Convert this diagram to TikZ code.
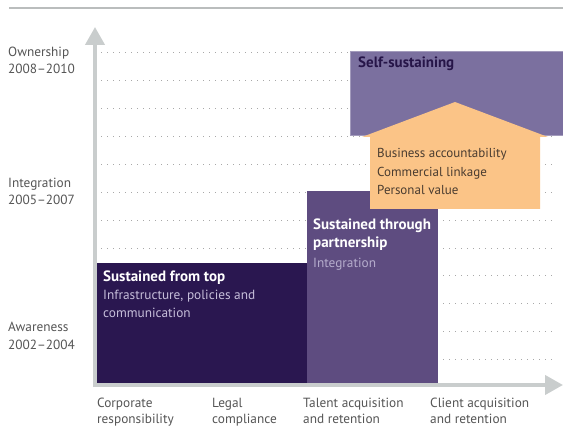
\documentclass[tikz,border=0pt]{standalone}
\usepackage{fontspec}
\setmainfont{PT Sans}
\usetikzlibrary{arrows.meta}
\definecolor{axisgray}{HTML}{C9CDCD}
\definecolor{dotgray}{HTML}{A8A8A8}
\definecolor{labgray}{HTML}{555555}
\definecolor{darkpurple}{HTML}{2A1750}
\definecolor{midpurple}{HTML}{5E4C80}
\definecolor{toppurple}{HTML}{7B709F}
\definecolor{houseorange}{HTML}{FBC487}
\definecolor{paletext}{HTML}{C6BEDA}
\definecolor{housetext}{HTML}{4A3C30}
\tikzset{
  lab/.style={anchor=base west, inner sep=0pt, text=labgray, font=\fontsize{13.3}{15}\selectfont},
  boxtitle/.style={anchor=base west, inner sep=0pt, text=white, font=\bfseries\fontsize{15}{17}\selectfont},
  boxsub/.style={anchor=base west, inner sep=0pt, text=paletext, font=\fontsize{13.3}{15}\selectfont},
  housetxt/.style={anchor=base west, inner sep=0pt, text=housetext, font=\fontsize{13}{15}\selectfont},
  gridline/.style={dotgray, line width=0.8pt, dash pattern=on 1.2pt off 4.8pt},
  axisline/.style={axisgray, line width=4pt, -{Triangle[length=18pt,width=19pt]}},
}
\begin{document}
\begin{tikzpicture}[x=1pt,y=-1pt]
\useasboundingbox (0,0) rectangle (563,427);
\fill[white] (0,0) rectangle (563,427);
% top rule
\coordinate (r1) at (9,8);
\coordinate (r2) at (563,8);
\draw[axisgray!80!gray, line width=1.5pt] (r1) -- (r2);
% dotted grid
\foreach \y in {52,80,108,136,164,192,220,248,275,303,331,359}{
  \draw[gridline] (101,\y) -- (556,\y);
}
% boxes
\fill[darkpurple] (97,263) rectangle (307,383);
\fill[midpurple] (307,191) rectangle (438,383);
\fill[toppurple, draw=toppurple!70!white, line width=0.8pt] (350,51) rectangle (563,135);
% house
\fill[houseorange] (455,102) -- (548,137) -- (540,137) -- (540,209) -- (370,209) -- (370,137) -- (362,137) -- cycle;
% axes
\coordinate (ytip) at (95,27);
\coordinate (xtip) at (563,385);
\coordinate (ybase) at (95,387);
\coordinate (xbase) at (93,385);
\draw[axisline] (ybase) -- (ytip);
\draw[axisline] (xbase) -- (xtip);
% y labels
\node[lab] (own) at (8,57) {Ownership};
\node[lab] (own2) at (8,74) {2008–2010};
\node[lab] (int) at (8,188) {Integration};
\node[lab] (int2) at (8,205) {2005–2007};
\node[lab] (awa) at (8,332) {Awareness};
\node[lab] (awa2) at (8,350) {2002–2004};
% x labels
\node[lab] (c1) at (97,408) {Corporate};
\node[lab] (c1b) at (97,424) {responsibility};
\node[lab] (c2) at (212,408) {Legal};
\node[lab] (c2b) at (212,424) {compliance};
\node[lab] (c3) at (303,408) {Talent acquisition};
\node[lab] (c3b) at (303,424) {and retention};
\node[lab] (c4) at (430,408) {Client acquisition};
\node[lab] (c4b) at (430,424) {and retention};
% box texts
\node[boxtitle] (t1) at (103,282) {Sustained from top};
\node[boxsub] (t1a) at (103,300) {Infrastructure, policies and};
\node[boxsub] (t1b) at (103,318) {communication};
\node[boxtitle] (t2) at (313,230) {Sustained through};
\node[boxtitle] (t2b) at (313,248) {partnership};
\node[boxsub, text=paletext!85!midpurple] (t2c) at (313,268) {Integration};
\node[boxtitle, text=darkpurple!90!black] (t3) at (358,68) {Self-sustaining};
\node[housetxt] (h1) at (377,158) {Business accountability};
\node[housetxt] (h2) at (377,177) {Commercial linkage};
\node[housetxt] (h3) at (377,195) {Personal value};
\end{tikzpicture}
\end{document}
